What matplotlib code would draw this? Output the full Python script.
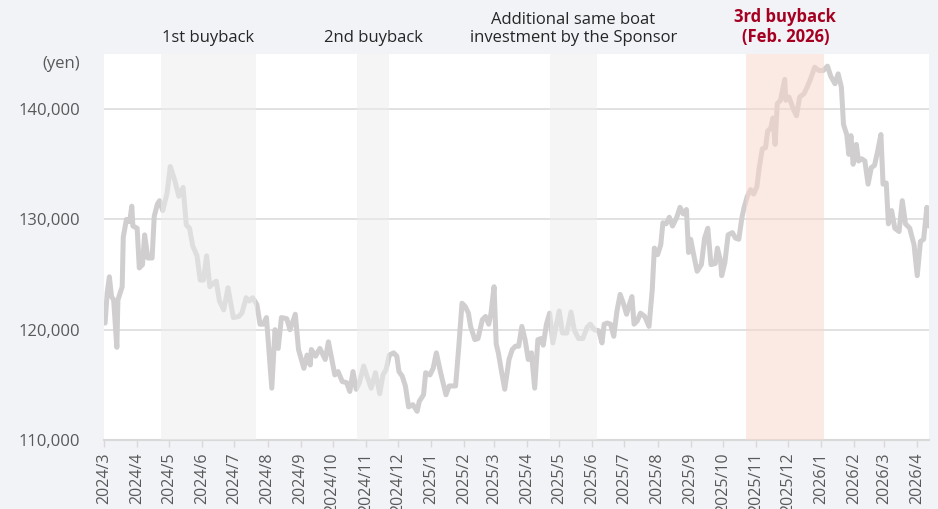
import matplotlib
matplotlib.use("Agg")
import matplotlib.pyplot as plt
import matplotlib.dates as mdates
import matplotlib.ticker as mticker
import pandas as pd

plt.rcParams['font.family'] = ['Open Sans', 'DejaVu Sans']

# unit price (yen)
dates = [
    "2024-03-02", "2024-03-04", "2024-03-06", "2024-03-08", "2024-03-10", "2024-03-13", "2024-03-14",
    "2024-03-18", "2024-03-19", "2024-03-22", "2024-03-25", "2024-03-27", "2024-03-28", "2024-04-01",
    "2024-04-03", "2024-04-06", "2024-04-08", "2024-04-11", "2024-04-15", "2024-04-17", "2024-04-20",
    "2024-04-22", "2024-04-25", "2024-04-29", "2024-05-02", "2024-05-06", "2024-05-10", "2024-05-14",
    "2024-05-17", "2024-05-20", "2024-05-23", "2024-05-27", "2024-05-30", "2024-06-02", "2024-06-05",
    "2024-06-08", "2024-06-11", "2024-06-14", "2024-06-17", "2024-06-21", "2024-06-25", "2024-06-30",
    "2024-07-05", "2024-07-08", "2024-07-12", "2024-07-15", "2024-07-18", "2024-07-22", "2024-07-25",
    "2024-07-28", "2024-07-31", "2024-08-05", "2024-08-08", "2024-08-11", "2024-08-14", "2024-08-19",
    "2024-08-22", "2024-08-27", "2024-08-30", "2024-09-04", "2024-09-07", "2024-09-10", "2024-09-11",
    "2024-09-15", "2024-09-19", "2024-09-24", "2024-09-27", "2024-09-30", "2024-10-03", "2024-10-06",
    "2024-10-10", "2024-10-14", "2024-10-17", "2024-10-20", "2024-10-23", "2024-10-26", "2024-10-30",
    "2024-11-02", "2024-11-06", "2024-11-10", "2024-11-14", "2024-11-17", "2024-11-20", "2024-11-23",
    "2024-11-27", "2024-11-30", "2024-12-02", "2024-12-05", "2024-12-08", "2024-12-11", "2024-12-15",
    "2024-12-19", "2024-12-21", "2024-12-25", "2024-12-27", "2024-12-31", "2025-01-03", "2025-01-06",
    "2025-01-10", "2025-01-13", "2025-01-15", "2025-01-18", "2025-01-24", "2025-01-27", "2025-01-30",
    "2025-02-02", "2025-02-05", "2025-02-07", "2025-02-11", "2025-02-14", "2025-02-18", "2025-02-21",
    "2025-02-24", "2025-02-26", "2025-03-01", "2025-03-03", "2025-03-05", "2025-03-08", "2025-03-11",
    "2025-03-15", "2025-03-18", "2025-03-21", "2025-03-24", "2025-03-27", "2025-03-30", "2025-04-02",
    "2025-04-05", "2025-04-08", "2025-04-11", "2025-04-14", "2025-04-16", "2025-04-19", "2025-04-22",
    "2025-04-25", "2025-04-28", "2025-05-01", "2025-05-04", "2025-05-08", "2025-05-12", "2025-05-15",
    "2025-05-19", "2025-05-23", "2025-05-27", "2025-05-30", "2025-06-03", "2025-06-07", "2025-06-10",
    "2025-06-12", "2025-06-15", "2025-06-18", "2025-06-21", "2025-06-24", "2025-06-27", "2025-06-30",
    "2025-07-03", "2025-07-06", "2025-07-08", "2025-07-10", "2025-07-13", "2025-07-16", "2025-07-20",
    "2025-07-24", "2025-07-27", "2025-07-29", "2025-08-01", "2025-08-04", "2025-08-06", "2025-08-09",
    "2025-08-12", "2025-08-15", "2025-08-19", "2025-08-22", "2025-08-25", "2025-08-28", "2025-08-30",
    "2025-09-01", "2025-09-04", "2025-09-07", "2025-09-11", "2025-09-14", "2025-09-17", "2025-09-20",
    "2025-09-24", "2025-09-26", "2025-09-29", "2025-09-30", "2025-10-03", "2025-10-06", "2025-10-10",
    "2025-10-13", "2025-10-16", "2025-10-19", "2025-10-21", "2025-10-24", "2025-10-27", "2025-10-30",
    "2025-11-02", "2025-11-04", "2025-11-07", "2025-11-10", "2025-11-12", "2025-11-15", "2025-11-17",
    "2025-11-19", "2025-11-21", "2025-11-24", "2025-11-28", "2025-11-29", "2025-12-02", "2025-12-06",
    "2025-12-09", "2025-12-12", "2025-12-16", "2025-12-19", "2025-12-22", "2025-12-26", "2025-12-30",
    "2026-01-03", "2026-01-07", "2026-01-10", "2026-01-14", "2026-01-17", "2026-01-20", "2026-01-22",
    "2026-01-25", "2026-01-27", "2026-01-29", "2026-01-31", "2026-02-03", "2026-02-05", "2026-02-08",
    "2026-02-11", "2026-02-14", "2026-02-17", "2026-02-20", "2026-02-23", "2026-02-26", "2026-02-28",
    "2026-03-03", "2026-03-05", "2026-03-08", "2026-03-11", "2026-03-15", "2026-03-18", "2026-03-21",
    "2026-03-25", "2026-03-29", "2026-04-01", "2026-04-04", "2026-04-07", "2026-04-10", "2026-04-12",
]
prices = [
    120600, 123400, 124800, 123000, 122700, 118400, 122700,
    123900, 128400, 130000, 129800, 131200, 129400, 129200,
    125600, 125900, 128600, 126500, 126500, 130300, 131400,
    131700, 130800, 132400, 134800, 133600, 132100, 132900,
    129500, 129200, 127600, 126700, 124500, 124500, 126700,
    123900, 124200, 124400, 122600, 121800, 123800, 121100,
    121200, 121500, 122900, 122600, 122900, 122300, 120500,
    120500, 121100, 114700, 120000, 118300, 121100, 121000,
    120000, 121400, 118200, 116500, 117700, 116800, 118200,
    117600, 118300, 117300, 118900, 117400, 115900, 116200,
    115300, 115200, 114400, 116200, 114600, 115200, 116700,
    115800, 114700, 116100, 114200, 115900, 116400, 117700,
    117900, 117600, 116200, 115800, 114900, 113000, 113200,
    112600, 113500, 114100, 116100, 115900, 116500, 117900,
    116100, 114900, 114100, 114900, 114900, 118500, 122400,
    122100, 121500, 120300, 119100, 119200, 120900, 121200,
    120500, 121400, 123900, 118700, 117900, 116200, 114600,
    117300, 118200, 118500, 118500, 120300, 119100, 117300,
    117900, 114700, 119100, 119200, 118600, 120500, 121500,
    118800, 120300, 121700, 119700, 119700, 121600, 120000,
    119200, 119200, 120200, 120500, 120000, 119900, 118800,
    120500, 120600, 120500, 119400, 121700, 123200, 122400,
    121400, 122400, 123000, 120500, 120800, 121500, 121200,
    120300, 123600, 127400, 126800, 127700, 129700, 129600,
    130200, 129400, 130200, 131100, 130500, 130900, 127000,
    128200, 126700, 125300, 125900, 128300, 129200, 125900,
    126000, 127400, 126200, 124900, 126100, 128600, 128800,
    128300, 128200, 130200, 131100, 132100, 132700, 132300,
    133000, 134600, 136400, 136500, 138000, 138300, 139200,
    136800, 140500, 140800, 142700, 140800, 141100, 140000,
    139400, 141100, 141400, 142000, 142700, 143800, 143500,
    143500, 143900, 143000, 142300, 143200, 142000, 138600,
    137700, 135900, 137600, 135000, 136800, 135300, 135500,
    135300, 133200, 134700, 134900, 136200, 137700, 133200,
    133300, 129600, 130800, 129200, 128900, 131700, 129600,
    129200, 127700, 124900, 128000, 128200, 131100, 129400,
]

# event periods
event_labels = ["1st buyback", "2nd buyback",
                "Additional same boat\ninvestment by the Sponsor",
                "3rd buyback\n(Feb. 2026)"]
event_start = ["2024-04-23", "2024-10-24", "2025-04-22", "2025-10-23"]
event_end = ["2024-07-21", "2024-11-23", "2025-06-05", "2026-01-04"]

x = pd.to_datetime(dates)

fig = plt.figure(figsize=(9.38, 5.09), dpi=100, facecolor="#F2F3F7")
ax = fig.add_axes([0.1109, 0.1356, 0.8795, 0.7583])
ax.set_facecolor("white")

ax.plot(x, prices, color="#D0CECE", lw=3.6, solid_joinstyle="round",
        solid_capstyle="round", zorder=3)

for i, lab in enumerate(event_labels):
    s = pd.Timestamp(event_start[i])
    e = pd.Timestamp(event_end[i])
    last = (i == len(event_labels) - 1)
    ax.axvspan(s, e, color="#F8D7CC" if last else "#EDEDED", alpha=0.55,
               lw=0, zorder=4)
    mid = s + (e - s) / 2
    ax.annotate(lab, xy=(mdates.date2num(mid), 1.0),
                xycoords=("data", "axes fraction"),
                xytext=(0, 6), textcoords="offset points",
                ha="center", va="bottom", fontsize=12, linespacing=1.15,
                color="#A50021" if last else "#262626",
                fontweight="bold" if last else "normal")

ax.set_ylim(110000, 145000)
ax.set_xlim(pd.Timestamp("2024-03-01"), pd.Timestamp("2026-04-12"))

ax.set_yticks([110000, 120000, 130000, 140000])
ax.yaxis.set_major_formatter(mticker.FuncFormatter(lambda v, p: f"{int(v):,}"))
ax.grid(axis="y", color="#D9D9D9", lw=1.1, zorder=1)
ax.tick_params(axis="y", length=0, pad=17, labelsize=12, labelcolor="#595959")

ax.xaxis.set_major_locator(mdates.MonthLocator())
ax.xaxis.set_major_formatter(mticker.FuncFormatter(
    lambda v, p: f"{mdates.num2date(v).year}/{mdates.num2date(v).month}"))
ax.tick_params(axis="x", length=5, width=1, color="#D9D9D9", pad=4,
               labelsize=11.5, labelcolor="#595959", labelrotation=90)

for sp in ["left", "right", "top"]:
    ax.spines[sp].set_visible(False)
ax.spines["bottom"].set_color("#D9D9D9")
ax.spines["bottom"].set_linewidth(1.5)

ax.annotate("(yen)", xy=(0, 0.974), xycoords="axes fraction",
            xytext=(-17, 0), textcoords="offset points",
            ha="right", va="center", fontsize=12, color="#595959")

fig.savefig("out.png", dpi=100, facecolor=fig.get_facecolor())
